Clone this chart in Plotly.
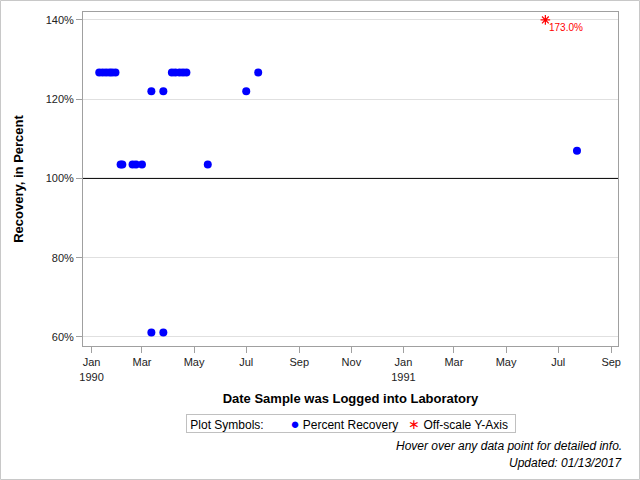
import plotly.graph_objects as go

# ---- data ----
recovery_dates = [
    "1990-01-10", "1990-01-14", "1990-01-18", "1990-01-22", "1990-01-25", "1990-01-29",
    "1990-02-04", "1990-02-06", "1990-02-18", "1990-02-22", "1990-03-01",
    "1990-03-12", "1990-03-12", "1990-03-26", "1990-03-26",
    "1990-04-05", "1990-04-09", "1990-04-14", "1990-04-18", "1990-04-22",
    "1990-05-17", "1990-07-01", "1990-07-15", "1991-07-23",
]
recovery_pct = [
    126.7, 126.7, 126.7, 126.7, 126.7, 126.7,
    103.5, 103.5, 103.5, 103.5, 103.5,
    122.0, 61.1, 122.0, 61.1,
    126.7, 126.7, 126.7, 126.7, 126.7,
    103.5, 122.0, 126.7, 107.0,
]
offscale_dates = ["1991-06-16"]
offscale_pct = [173.0]

y_min, y_max = 60, 140
y_ticks = [60, 80, 100, 120, 140]
y_tick_text = ["60%", "80%", "100%", "120%", "140%"]
x_tick_vals = ["1990-01-01", "1990-03-01", "1990-05-01", "1990-07-01", "1990-09-01",
               "1990-11-01", "1991-01-01", "1991-03-01", "1991-05-01", "1991-07-01",
               "1991-09-01"]
x_tick_text = ["Jan<br>1990", "Mar", "May", "Jul", "Sep", "Nov", "Jan<br>1991",
               "Mar", "May", "Jul", "Sep"]

offscale_plot_y = [min(v, y_max) for v in offscale_pct]
offscale_labels = [f"{v:.1f}%" for v in offscale_pct]

FONT = "Liberation Sans, Arial, sans-serif"
W, H = 640, 480
ml, mr, mt, mb = 83, 22, 12, 134
pw, ph = W - ml - mr, H - mt - mb


def py(pix):
    """pixel row (from top of page) -> paper y"""
    return (H - mb - pix) / ph


def px(pix):
    return (pix - ml) / pw


fig = go.Figure()
fig.add_trace(go.Scatter(
    x=recovery_dates, y=recovery_pct, mode="markers", name="Percent Recovery",
    marker=dict(symbol="circle", size=8, color="#0000ff"),
    hovertemplate="Date: %{x|%m/%d/%Y}<br>Recovery: %{y:.1f}%<extra></extra>",
    showlegend=False,
))
fig.add_trace(go.Scatter(
    x=offscale_dates, y=offscale_plot_y, mode="markers", name="Off-scale Y-Axis",
    marker=dict(symbol="asterisk-open", size=8, color="#ff0000",
                line=dict(color="#ff0000", width=1.2)),
    customdata=offscale_pct,
    hovertemplate="Date: %{x|%m/%d/%Y}<br>Recovery: %{customdata:.1f}%<extra></extra>",
    showlegend=False,
))
for d, yv, lab in zip(offscale_dates, offscale_plot_y, offscale_labels):
    fig.add_annotation(x=d, y=yv, text=lab, showarrow=False, xanchor="left", yanchor="top",
                       xshift=2, yshift=0, font=dict(color="#ff0000", size=10, family=FONT))

# 100% reference line
fig.add_shape(type="line", xref="paper", yref="y", x0=0, x1=1, y0=100, y1=100,
              line=dict(color="black", width=1))
# outer border
fig.add_shape(type="rect", xref="paper", yref="paper",
              x0=px(0.5), x1=px(W - 0.5), y0=py(H - 0.5), y1=py(0.5),
              line=dict(color="#c8c8c8", width=1), layer="below")

# legend box
sp = "&nbsp;"
legend_text = (sp + "Plot Symbols:" + sp * 8 +
               "<span style='color:#0000ff;font-size:15px'>●</span>" + sp +
               "Percent Recovery" + sp * 3 +
               "<span style='color:#ff0000;font-size:14px'>∗</span>" + sp +
               "Off-scale Y-Axis" + sp * 2)
fig.add_annotation(xref="paper", yref="paper", x=px(351), y=py(423),
                   text=legend_text, showarrow=False, xanchor="center", yanchor="middle",
                   bordercolor="#c0c0c0", borderwidth=1, borderpad=0, bgcolor="white",
                   font=dict(size=12, family=FONT, color="black"))

fig.add_annotation(xref="paper", yref="paper", x=px(624), y=py(446),
                   text="<i>Hover over any data point for detailed info.</i>",
                   showarrow=False, xanchor="right", yanchor="middle",
                   font=dict(size=12, family=FONT, color="black"))
fig.add_annotation(xref="paper", yref="paper", x=px(624), y=py(463),
                   text="<i>Updated: 01/13/2017</i>",
                   showarrow=False, xanchor="right", yanchor="middle",
                   font=dict(size=12, family=FONT, color="black"))

fig.update_layout(
    width=W, height=H,
    margin=dict(l=ml, r=mr, t=mt, b=mb),
    plot_bgcolor="white", paper_bgcolor="white",
    font=dict(family=FONT, size=11, color="black"),
    hovermode="closest",
    showlegend=False,
)
fig.update_xaxes(
    type="date", range=["1989-12-22", "1991-09-09"],
    tickvals=x_tick_vals, ticktext=x_tick_text,
    ticks="outside", ticklen=6, tickcolor="#a0a0a0",
    showline=True, linecolor="#a0a0a0", mirror=True, linewidth=1,
    showgrid=False, zeroline=False,
    tickfont=dict(size=11, family=FONT, color="#222"),
    title=dict(text="<b>Date Sample was Logged into Laboratory</b>",
               font=dict(size=13, family=FONT, color="black"), standoff=12),
)
fig.update_yaxes(
    range=[57.7, 142.0], tickvals=y_ticks, ticktext=y_tick_text,
    ticks="outside", ticklen=6, tickcolor="#a0a0a0",
    showline=True, linecolor="#a0a0a0", mirror=True, linewidth=1,
    showgrid=True, gridcolor="#e0e0e0", gridwidth=1, zeroline=False,
    tickfont=dict(size=11, family=FONT, color="#222"),
    title=dict(text="<b>Recovery, in Percent</b>",
               font=dict(size=13, family=FONT, color="black"), standoff=19),
)

fig.write_html("out.html")
